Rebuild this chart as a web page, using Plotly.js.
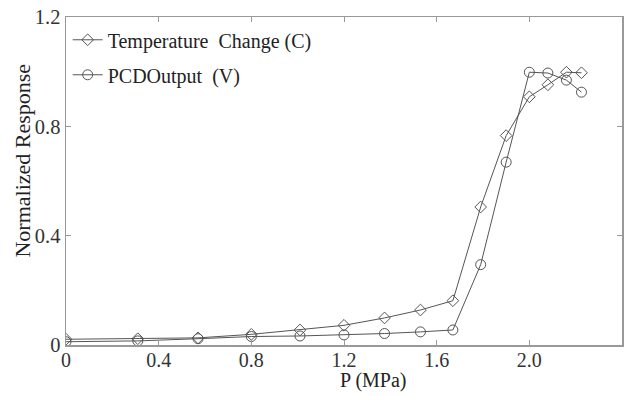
<!DOCTYPE html>
<html>
<head>
<meta charset="utf-8">
<script src="https://cdn.plot.ly/plotly-3.0.1.min.js"></script>
<style>html,body{margin:0;padding:0;background:#fff;} #chart{width:633px;height:396px;}</style>
</head>
<body>
<div id="chart"></div>
<script>
var pressure = [0, 0.31, 0.57, 0.80, 1.01, 1.20, 1.375, 1.53, 1.67, 1.79, 1.90, 2.00, 2.08, 2.16, 2.225];
var tempChange = [0.021, 0.023, 0.026, 0.039, 0.055, 0.072, 0.099, 0.128, 0.162, 0.505, 0.766, 0.908, 0.952, 0.998, 0.996];
var pcdOutput = [0.012, 0.015, 0.023, 0.031, 0.033, 0.037, 0.042, 0.048, 0.055, 0.294, 0.669, 0.998, 0.995, 0.969, 0.925];
var xTickVals = [0, 0.4, 0.8, 1.2, 1.6, 2.0, 2.4];
var xTickText = ["0", "0.4", "0.8", "1.2", "1.6", "2.0", "2.4"];
var yTickVals = [0, 0.4, 0.8, 1.2];
var yTickText = ["0", "0.4", "0.8", "1.2"];
var xTitle = "P (MPa)";
var yTitle = "Normalized Response";

var traces = [
  {x: pressure, y: tempChange, name: "Temperature  Change (C)", type: "scatter", mode: "lines+markers",
   legendgroup: "a",
   line: {color: "#555", width: 1}, marker: {symbol: "diamond-open", size: 9, color: "#555", line: {width: 1}}},
  {x: pressure, y: pcdOutput, name: "PCDOutput  (V)", type: "scatter", mode: "lines+markers",
   legendgroup: "b",
   line: {color: "#555", width: 1}, marker: {symbol: "circle-open", size: 10, color: "#555", line: {width: 1}}}
];
var layout = {
  width: 633, height: 396,
  margin: {l: 66, r: 11, t: 17, b: 51},
  paper_bgcolor: "#fff", plot_bgcolor: "#fff",
  font: {family: "Liberation Serif", size: 20, color: "#222"},
  showlegend: true,
  legend: {x: 0.003, y: 0.99, xanchor: "left", yanchor: "top", bgcolor: "rgba(0,0,0,0)",
    font: {family: "Liberation Serif", size: 20}, traceorder: "grouped", tracegroupgap: 6, itemwidth: 30},
  xaxis: {range: [0, 2.4], tickvals: xTickVals, ticktext: xTickText, ticklabelstandoff: -4,
    showgrid: false, zeroline: false, showline: true, mirror: "ticks", linecolor: "#999", linewidth: 1.5,
    ticks: "inside", ticklen: 5, tickcolor: "#999", tickfont: {family: "Liberation Serif", size: 20, color: "#333"}},
  yaxis: {range: [0, 1.2], tickvals: yTickVals, ticktext: yTickText, ticklabelstandoff: 0,
    showgrid: false, zeroline: false, showline: true, mirror: "ticks", linecolor: "#999", linewidth: 1.5,
    ticks: "inside", ticklen: 5, tickcolor: "#999", tickfont: {family: "Liberation Serif", size: 20.5, color: "#333"}},
  annotations: [
    {text: xTitle, xref: "x", yref: "paper", x: 1.326, y: -0.148, xanchor: "center", yanchor: "bottom",
     showarrow: false, font: {family: "Liberation Serif", size: 20, color: "#222"}},
    {text: yTitle, xref: "paper", yref: "y", x: -0.079, y: 0.675, xanchor: "center", yanchor: "middle",
     textangle: -90, showarrow: false, font: {family: "Liberation Serif", size: 22, color: "#222"}}
  ]
};
Plotly.newPlot("chart", traces, layout, {displayModeBar: false, staticPlot: true});
</script>
</body>
</html>
